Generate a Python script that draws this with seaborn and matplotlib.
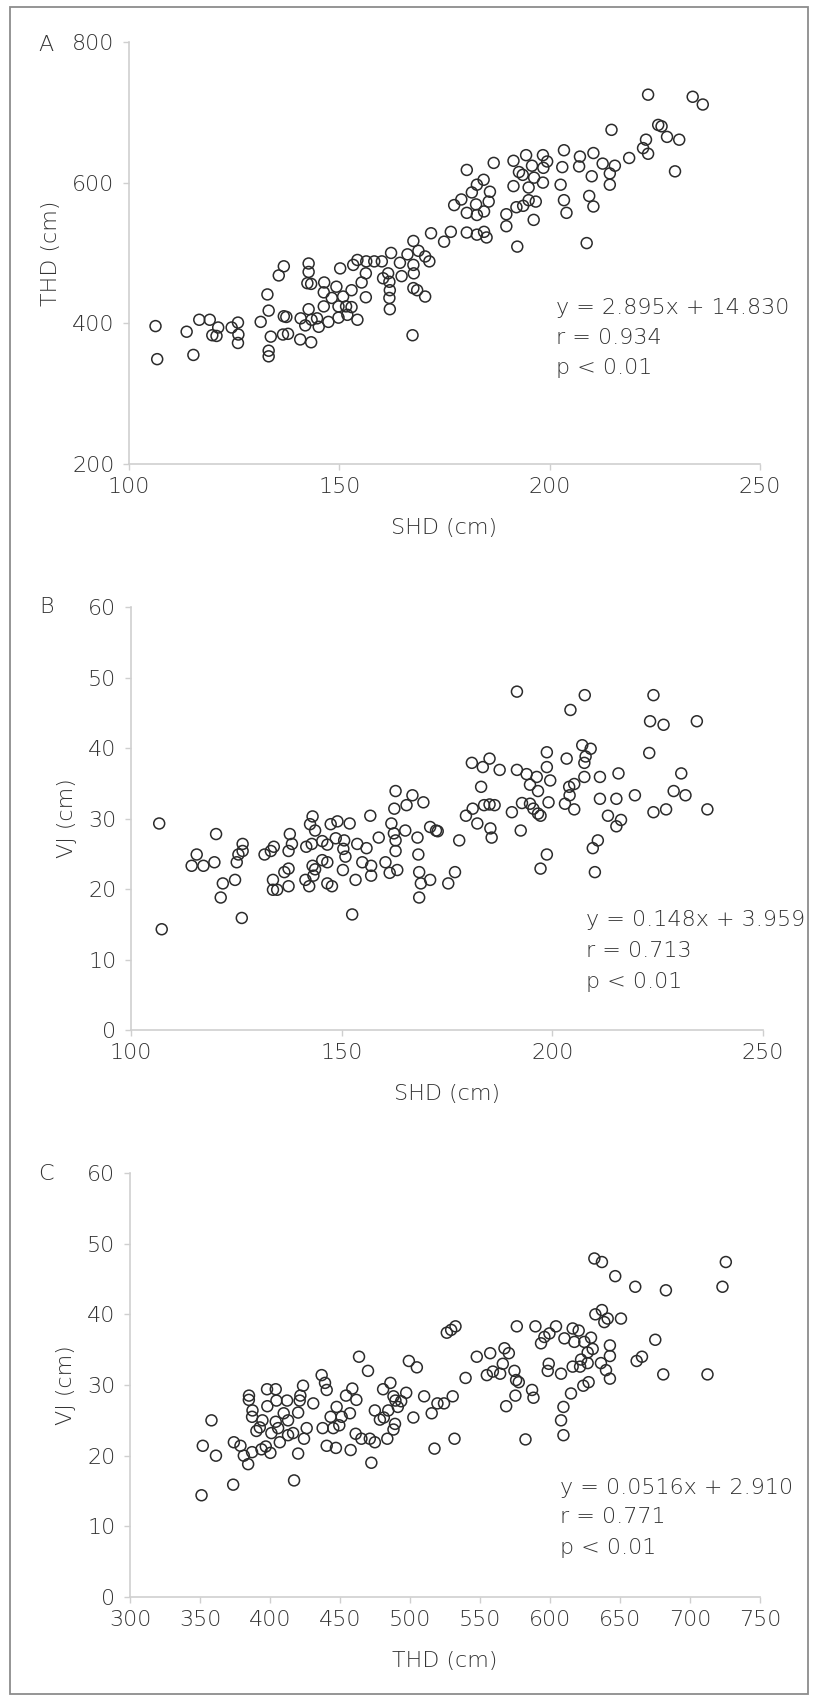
import matplotlib
matplotlib.use("Agg")
import matplotlib.pyplot as plt
from matplotlib.patches import Rectangle
import seaborn as sns

# Panel A: SHD vs THD
shd_a = [106.3, 106.7, 113.7, 115.3, 116.7, 119.2, 121.2, 119.8, 120.8, 124.4, 125.9, 126.0, 125.9,
         131.3, 133.2, 132.9, 133.7, 133.2, 133.2, 135.6, 136.8, 136.8, 137.4, 136.6, 137.8, 140.7,
         140.8, 142.7, 142.7, 142.4, 143.3, 143.3, 142.7, 141.9, 143.4, 144.7, 145.1, 146.4, 146.3,
         146.3, 148.2, 147.4, 149.3, 149.8, 149.8, 150.2,
         153.3, 154.3, 156.4, 158.3, 160.1, 162.3, 166.2, 167.6, 168.8, 170.4, 171.4, 171.8, 174.9,
         176.5, 180.3, 180.3, 177.3, 179.0, 180.3, 181.5, 182.7, 184.3, 182.5, 182.7, 184.4, 185.8,
         185.5, 182.7, 184.4, 185.0, 186.7, 189.7, 189.7, 192.3, 191.4, 191.4, 192.1, 193.7, 195.0,
         196.7, 196.2, 194.4, 192.7, 193.6, 195.8, 196.3, 195.0, 198.4, 199.4, 198.5, 198.4, 203.4,
         203.0, 202.6, 203.4, 204.0,
         156.3, 155.3, 152.9, 150.9, 151.6, 152.9, 151.9, 154.3, 156.3, 160.4, 161.6, 161.9, 164.4,
         164.8, 162.0, 161.9, 162.0, 167.6, 167.7, 167.6, 168.5, 170.4, 167.4,
         207.2, 210.4, 207.0, 210.0, 212.6, 215.5, 214.3, 214.3, 209.4, 210.4, 208.8, 214.7, 218.9,
         223.4, 222.9, 222.2, 223.4, 225.8, 226.6, 227.9, 230.8, 229.8, 234.0, 236.4]
thd_a = [396, 349, 388, 355, 405, 405, 394, 383, 382, 394, 401, 384, 372,
         402, 418, 441, 381, 361, 353, 468, 481, 410, 409, 384, 385, 377,
         407, 485, 473, 457, 456, 373, 420, 397, 405, 407, 395, 458, 444,
         424, 436, 402, 452, 408, 424, 478,
         483, 490, 488, 488, 488, 500, 498, 517, 503, 495, 488, 528, 516,
         530, 529, 618, 568, 576, 557, 586, 597, 604, 569, 554, 559, 587,
         573, 526, 530, 522, 628, 555, 538, 509, 631, 595, 565, 567, 575,
         573, 547, 639, 615, 611, 624, 607, 593, 639, 630, 621, 600, 646,
         622, 597, 575, 557,
         471, 458, 447, 438, 424, 423, 412, 405, 437, 464, 471, 459, 486,
         467, 447, 436, 420, 483, 471, 450, 447, 438, 383,
         637, 642, 623, 609, 627, 624, 613, 597, 581, 566, 514, 675, 635,
         725, 661, 649, 641, 682, 680, 665, 661, 616, 722, 711]

# Panel B: SHD vs VJ
shd_b = [106.7, 107.3, 114.4, 115.6, 117.2, 119.8, 120.2, 121.8, 121.3, 124.7, 125.1, 125.5, 126.5,
         126.5, 126.3, 131.7, 133.2, 133.9, 133.7, 133.7, 134.7, 136.4, 137.4, 137.4, 137.4, 137.7,
         138.2, 141.6, 141.4, 142.3, 143.1, 142.5, 143.7, 142.9, 143.1, 143.7, 143.3, 145.4, 146.6,
         145.4, 146.6, 146.6, 147.7, 147.4, 148.6, 149.0,
         151.9, 150.6, 150.4, 150.9, 150.3, 153.3, 152.5, 153.7, 154.9, 155.9, 156.8, 157.0, 157.0,
         158.8, 160.4, 161.4, 161.8, 162.4, 162.5, 162.8, 162.8, 162.8, 163.2, 165.1, 165.4, 166.8,
         168.0, 168.2, 168.4, 168.8, 168.4, 169.4, 171.0, 171.0, 172.4, 172.8, 175.3, 176.9, 177.9,
         179.5, 180.9, 183.1, 183.5, 185.1, 187.5, 181.1, 182.2, 183.8, 185.1, 186.3, 185.3, 185.6,
         191.6, 190.4, 192.8, 191.6, 193.9, 194.7, 196.3, 196.6, 198.7, 198.7, 199.5, 194.7, 195.5,
         196.6, 197.2, 199.1, 192.5, 198.7, 197.2, 203.0, 203.4, 204.3, 204.0, 204.1,
         207.7, 207.1, 209.1, 207.9, 207.6, 207.6, 205.2, 205.2, 211.3, 215.7, 211.3, 215.2, 219.6,
         213.2, 216.3, 215.2, 210.8, 209.6, 210.1, 224.0, 223.2, 226.4, 234.3, 223.0, 230.6, 228.8,
         231.6, 224.0, 227.0, 236.8]
vj_b = [29.3, 14.3, 23.3, 24.9, 23.3, 23.8, 27.8, 20.8, 18.8, 21.3, 23.8, 24.9, 26.4,
        25.4, 15.9, 24.9, 25.4, 26.0, 21.3, 19.9, 19.9, 22.4, 22.9, 20.4, 25.4, 27.8,
        26.4, 26.0, 21.3, 20.4, 30.3, 29.2, 28.3, 26.4, 23.3, 22.8, 21.9, 26.8, 26.3,
        24.1, 23.8, 20.8, 20.4, 29.2, 27.2, 29.6,
        29.3, 26.9, 25.7, 24.6, 22.7, 21.3, 16.4, 26.4, 23.8, 25.8, 30.4, 23.3, 21.9,
        27.3, 23.8, 22.3, 29.3, 27.9, 31.4, 33.9, 26.9, 25.4, 22.7, 28.3, 31.9, 33.3,
        27.3, 24.9, 22.4, 20.8, 18.8, 32.3, 21.3, 28.8, 28.3, 28.2, 20.8, 22.4, 26.9,
        30.4, 37.9, 34.5, 37.3, 38.5, 36.9, 31.4, 29.3, 31.9, 32.0, 31.9, 28.6, 27.3,
        48.0, 30.9, 32.2, 36.9, 36.3, 34.8, 35.9, 33.9, 39.4, 37.3, 35.4, 32.1, 31.4,
        30.7, 30.4, 32.3, 28.3, 24.9, 22.9, 32.1, 38.5, 45.4, 34.5, 33.3,
        47.5, 40.4, 39.9, 38.8, 37.9, 35.9, 34.9, 31.3, 35.9, 36.4, 32.8, 32.8, 33.3,
        30.4, 29.8, 28.9, 26.9, 25.8, 22.4, 47.5, 43.8, 43.3, 43.8, 39.3, 36.4, 33.9,
        33.3, 30.9, 31.3, 31.3]

# Panel C: THD vs VJ
thd_c = [351.1, 352.0, 358.2, 361.4, 373.7, 374.2, 378.9, 381.3, 384.4, 387.2, 385.0, 384.9, 387.5,
         387.2, 390.3, 392.7, 394.6, 393.9, 397.0, 400.3, 397.9, 404.1, 398.1, 404.6, 401.0, 404.1,
         405.8, 407.0, 409.8, 412.2, 412.9, 412.9, 416.5, 420.1, 421.2, 421.7, 423.6, 420.1, 417.2,
         424.3, 426.2, 430.9, 436.9, 439.3, 440.5, 437.6, 440.5, 443.3, 445.2, 447.1, 447.6,
         463.6, 470.0, 499.2, 504.9, 539.7, 526.3, 529.4, 532.5, 547.7, 557.3, 567.5, 570.6, 566.3,
         554.9, 559.2, 564.4, 574.6, 575.8, 577.7, 575.3, 568.7, 587.2, 588.2, 582.5, 576.3, 589.6,
         593.6, 596.0, 599.6, 604.3, 599.1, 598.4, 607.9, 610.3,
         458.8, 461.7, 454.3, 457.1, 451.2, 449.5, 461.2, 465.3, 471.3, 474.9, 457.6, 472.4, 474.9,
         478.5, 481.3, 480.8, 486.0, 484.5, 488.2, 488.2, 489.6, 491.3, 493.7, 497.3, 489.3, 483.8,
         502.4, 510.1, 515.5, 519.6, 524.3, 530.5, 517.5, 531.8,
         631.7, 637.1, 646.6, 660.9, 682.8, 725.6, 723.2, 632.4, 637.1, 641.2, 638.8, 650.7, 616.2,
         620.5, 617.4, 624.5, 629.3, 630.5, 626.9, 622.2, 626.9, 636.4, 642.8, 642.8, 640.0, 642.8,
         616.2, 621.5, 627.6, 623.8, 615.0, 609.6, 607.9, 609.6, 661.9, 665.7, 675.2, 680.9, 712.5]
vj_c = [14.4, 21.4, 25.0, 20.0, 15.9, 21.9, 21.4, 20.0, 18.8, 20.5, 28.5, 27.9, 26.4,
        25.5, 23.5, 24.0, 25.0, 20.9, 21.3, 20.4, 29.4, 29.4, 27.0, 27.8, 23.2, 24.8,
        23.9, 21.9, 26.0, 27.8, 25.0, 22.9, 23.2, 26.1, 27.8, 28.5, 29.9, 20.3, 16.5,
        22.4, 23.9, 27.4, 31.4, 30.3, 29.3, 23.9, 21.4, 25.5, 23.9, 21.1, 26.9,
        34.0, 32.0, 33.4, 32.5, 31.0, 37.4, 37.8, 38.3, 34.0, 34.5, 35.2, 34.5, 33.0,
        31.4, 31.9, 31.6, 32.0, 30.7, 30.4, 28.5, 27.0, 29.3, 28.2, 22.3, 38.3, 38.3,
        35.9, 36.8, 37.3, 38.3, 33.0, 32.0, 31.6, 36.6,
        29.5, 27.9, 28.5, 26.0, 25.5, 24.3, 23.1, 22.4, 22.4, 21.9, 20.8, 19.0, 26.4,
        25.1, 25.4, 29.4, 30.3, 26.4, 28.4, 23.7, 27.8, 26.9, 27.7, 28.9, 24.5, 22.4,
        25.4, 28.4, 26.0, 27.4, 27.4, 28.4, 21.0, 22.4,
        47.9, 47.4, 45.4, 43.9, 43.4, 47.4, 43.9, 40.0, 40.6, 39.4, 38.9, 39.4, 38.0,
        37.7, 36.1, 36.1, 36.7, 35.1, 34.6, 33.6, 33.1, 33.1, 35.6, 34.1, 32.1, 30.9,
        32.6, 32.6, 30.4, 29.9, 28.8, 26.9, 25.0, 22.9, 33.4, 34.0, 36.4, 31.5, 31.5]

sns.set_theme(style="white")
plt.rcParams["font.family"] = ["DejaVu Sans"]
plt.rcParams["font.weight"] = "light"
plt.rcParams["axes.labelweight"] = "light"

TXT = "#333333"
AXC = "#cfcfcf"
FS = 16

fig = plt.figure(figsize=(8.15, 16.97), dpi=100)

panels = [
    dict(pos=[0.1583, 0.7266, 0.7742, 0.2487], x=shd_a, y=thd_a, xlim=(100, 250), ylim=(200, 800),
         xt=[100, 150, 200, 250], yt=[200, 400, 600, 800], xl="SHD (cm)", yl="THD (cm)",
         letter="A", ly=45,
         eq=["y = 2.895x + 14.830", "r = 0.934", "p < 0.01"], tx=0.677, ty=[0.370, 0.299, 0.227]),
    dict(pos=[0.1607, 0.3930, 0.7755, 0.2493], x=shd_b, y=vj_b, xlim=(100, 250), ylim=(0, 60),
         xt=[100, 150, 200, 250], yt=list(range(0, 61, 10)), xl="SHD (cm)", yl="VJ (cm)",
         letter="B", ly=607,
         eq=["y = 0.148x + 3.959", "r = 0.713", "p < 0.01"], tx=0.72, ty=[0.260, 0.186, 0.114]),
    dict(pos=[0.1595, 0.0589, 0.7730, 0.2499], x=thd_c, y=vj_c, xlim=(300, 750), ylim=(0, 60),
         xt=list(range(300, 751, 50)), yt=list(range(0, 61, 10)), xl="THD (cm)", yl="VJ (cm)",
         letter="C", ly=1174,
         eq=["y = 0.0516x + 2.910", "r = 0.771", "p < 0.01"], tx=0.683, ty=[0.258, 0.188, 0.116]),
]

for p in panels:
    ax = fig.add_axes(p["pos"])
    sns.scatterplot(x=p["x"], y=p["y"], ax=ax, s=62, marker="o",
                    facecolor="none", edgecolor="#2b2b2b", linewidth=1.1)
    ax.set_xlim(*p["xlim"])
    ax.set_ylim(*p["ylim"])
    ax.set_xticks(p["xt"])
    ax.set_yticks(p["yt"])
    for s in ["top", "right"]:
        ax.spines[s].set_visible(False)
    for s in ["left", "bottom"]:
        ax.spines[s].set_color(AXC)
        ax.spines[s].set_linewidth(1.2)
    ax.tick_params(axis="both", direction="out", length=4.5, width=1, color=AXC,
                   labelsize=FS, labelcolor=TXT, bottom=True, left=True)
    ax.tick_params(axis="y", pad=6)
    ax.tick_params(axis="x", pad=5)
    ax.set_xlabel(p["xl"], fontsize=FS, color=TXT, labelpad=15, fontweight="light")
    ax.set_ylabel(p["yl"], fontsize=FS, color=TXT, labelpad=8, fontweight="light")
    for line, yy in zip(p["eq"], p["ty"]):
        ax.text(p["tx"], yy, line, transform=ax.transAxes, fontsize=FS, color=TXT,
                ha="left", va="center")
    fig.text(46 / 815, 1 - p["ly"] / 1697, p["letter"], fontsize=FS, color=TXT,
             ha="center", va="center")

fig.patches.append(Rectangle((10 / 815, 1 - 1694 / 1697), 798 / 815, 1687 / 1697,
                             transform=fig.transFigure, fill=False,
                             edgecolor="#8c8c8c", linewidth=1.3))

fig.savefig("out.png", dpi=100)
